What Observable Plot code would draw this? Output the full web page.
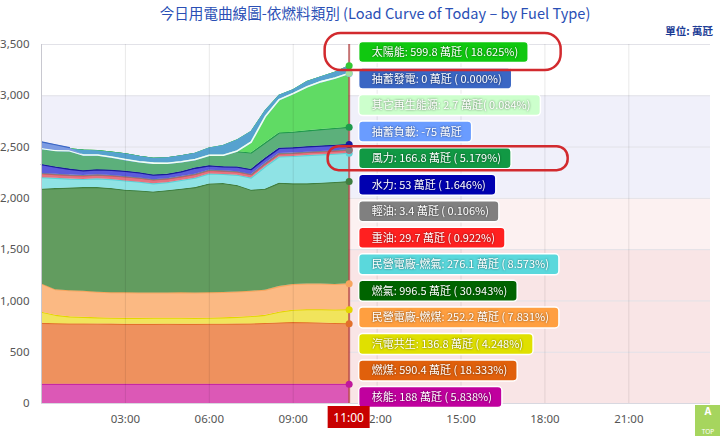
<!DOCTYPE html>
<html><head><meta charset="utf-8">
<script src="https://cdn.jsdelivr.net/npm/d3@7"></script>
<script src="https://cdn.jsdelivr.net/npm/@observablehq/plot@0.6"></script>
<style>
body{margin:0;background:#fff;font-family:"Noto Sans CJK TC","Noto Sans",sans-serif;}
#chart svg{display:block;}
</style></head>
<body><div id="chart"></div>
<script>
// ---- data (萬瓩), half-hour readings 00:00 – 11:00 ----
const times = ["00:00","00:30","01:00","01:30","02:00","02:30","03:00","03:30","04:00","04:30","05:00","05:30","06:00","06:30","07:00","07:30","08:00","08:30","09:00","09:30","10:00","10:30","11:00"];
const nuclear    = [188,188,188,188,188,188,188,188,188,188,188,188,188,188,188,188,188,188,188,188,188,188,188];
const coal       = [594,590,588,588,587,586,584,584,584,585,584,584,585,585,586,588,592,598,602,600,597,592,590.4];
const cogen      = [108,82,69,64,60,58,58,58,60,59,60,58,59,62,66,72,80,104,120,127,130,132,136.8];
const ippCoal    = [275,250,255,255,250,248,250,248,246,246,248,248,248,247,248,247,245,250,250,250,250,248,252.2];
const gas        = [925,985,1000,1010,1020,1015,1000,994,984,997,1010,1027,1060,1063,1037,985,985,1008,982,977,983,995,996.5];
const ippGas     = [112,100,88,80,85,88,90,86,80,78,84,92,98,88,100,118,215,256,266,275,276,276,276.1];
const oil        = [38,37,36,35,36,37,38,38,37,36,36,36,34,32,32,32,31,30,30,30,30,30,29.7];
const diesel     = [3,3,3,3,3,3,3,3,3,3,3,3,3,3,3,3,3,3,3.4,3.4,3.4,3.4,3.4];
const hydro      = [87,70,58,47,51,52,54,51,46,43,47,59,43,40,45,49,51,51,52,53,53,53,53];
const wind       = [153,160,197,200,185,175,169,160,162,160,155,143,150,150,150,160,150,150,152,155,160,164,166.8];
const solar      = [0,0,0,0,0,0,0,0,0,0,0,2,22,57,115,210,315,367,413,482,515,549,599.8];
const pumpLoad   = [0,0,-20,-50,-45,-50,-58,-55,-49,-55,-60,-64,-72,-97,-110,-105,-60,-45,-39,-55,-50,-60,-75];
const otherRenew = [2.5,2.5,2.5,2.5,2.5,2.5,2.5,2.5,2.5,2.5,2.5,2.5,2.6,2.6,2.6,2.6,2.7,2.7,2.7,2.7,2.7,2.7,2.7];
const pumpGen    = [65,55,30,0,0,0,0,0,0,0,0,0,0,0,0,0,0,0,0,0,0,0,0];

const names  = ["核能","燃煤","汽電共生","民營電廠-燃煤","燃氣","民營電廠-燃氣","重油","輕油","水力","風力","太陽能","抽蓄負載","其它再生能源","抽蓄發電"];
const series = [nuclear,coal,cogen,ippCoal,gas,ippGas,oil,diesel,hydro,wind,solar,pumpLoad,otherRenew,pumpGen];
const tipOrder = ["太陽能","抽蓄發電","其它再生能源","抽蓄負載","風力","水力","輕油","重油","民營電廠-燃氣","燃氣","民營電廠-燃煤","汽電共生","燃煤","核能"];
const yTicks = [0,500,1000,1500,2000,2500,3000,3500];
const xTicks = [3,6,9,12,15,18,21];
const chartTitle = "今日用電曲線圖-依燃料類別 (Load Curve of Today – by Fuel Type)";
const unitLabel = "單位: 萬瓩";
const cursorTime = "11:00";

// ---- styles ----
const areaColor = {"核能":"#dc58b6","燃煤":"#ee915e","汽電共生":"#f1e45c","民營電廠-燃煤":"#fbb983","燃氣":"#629c5f","民營電廠-燃氣":"#8fe3e5","重油":"#e4737f","輕油":"#9a9a9a","水力":"#5c5cdb","風力":"#5cb07b","太陽能":"#60db64","抽蓄負載":"#56a2cf","其它再生能源":"#e8ffe8","抽蓄發電":"#7c9be2"};
const lineColor = {"核能":"#c0189c","燃煤":"#e2702a","汽電共生":"#e4d600","民營電廠-燃煤":"#f7a55e","燃氣":"#3f7e3f","民營電廠-燃氣":"#5ad2d8","重油":"#e04555","輕油":"#808080","水力":"#1a1a9e","風力":"#1f9a4c","太陽能":"#34c834","抽蓄負載":"#6a9cff","其它再生能源":"#f2fff2","抽蓄發電":"#3a66c4"};
const tipColor = {"核能":"#c0009e","燃煤":"#e0600c","汽電共生":"#e0e000","民營電廠-燃煤":"#ff9f40","燃氣":"#006400","民營電廠-燃氣":"#5ad8dc","重油":"#ff2020","輕油":"#808080","水力":"#0000b0","風力":"#119944","太陽能":"#10c810","抽蓄負載":"#6a9cff","其它再生能源":"#ccffcc","抽蓄發電":"#3a66c4"};

const hours = s => { const [h,m] = s.split(":").map(Number); return h + m/60; };

// ---- stacked table (running sum, negatives included) ----
const rows = [];
times.forEach((tm, j) => {
  let cum = 0;
  names.forEach((n, i) => {
    const v = series[i][j];
    const lo = cum; cum += v;
    rows.push({t: hours(tm), name: n, v, lo, hi: cum});
  });
});
const byName = n => rows.filter(r => r.name === n);
const tCursor = hours(cursorTime);

const marks = [
  Plot.rect([{a:0,b:1500,c:"#f9e5e6"},{a:1500,b:2000,c:"#fcf1f1"},{a:2000,b:3000,c:"#f0f0fa"}],
            {x1:0, x2:23.92, y1:"a", y2:"b", fill:"c"}),
  Plot.ruleY(yTicks, {stroke:"#e2e2e8"})
];
names.forEach(n => {
  marks.push(Plot.area(byName(n), {x1:"t", y1:"lo", y2:"hi", fill: areaColor[n]}));
  const opts = {x:"t", y:"hi", stroke: lineColor[n], strokeWidth: n==="水力"?1.6:(n==="其它再生能源"?1.6:1.2)};
  if (n === "抽蓄發電") opts.filter = d => d.v > 0;
  marks.push(Plot.line(byName(n), opts));
});
marks.push(
  Plot.ruleX(xTicks, {stroke:"#000", strokeOpacity:0.09}),
  Plot.ruleX([0], {stroke:"#c8c8d0"}),
  Plot.ruleY([0], {stroke:"#d8d8e0"}),
  Plot.ruleX([tCursor], {y1:0, y2:3500, stroke:"#a01818", strokeOpacity:0.6, strokeWidth:2}),
  Plot.dot(rows.filter(r => r.t === tCursor && r.name !== "抽蓄發電"), {x:"t", y:"hi", r:3.5, fill: d => lineColor[d.name]==="#f2fff2" ? "#9fe09f" : lineColor[d.name]}),
  Plot.axisY({ticks: yTicks, tickFormat: d3.format(","), tickSize:0, tickPadding:12, fontSize:11.5, fill:"#555"}),
  Plot.axisX({ticks: xTicks, tickFormat: h => String(h).padStart(2,"0")+":00", tickSize:0, tickPadding:11, fontSize:11.5, fill:"#555"})
);

const plot = Plot.plot({
  width:720, height:436,
  marginTop:44, marginBottom:33, marginLeft:41, marginRight:10,
  style:{fontFamily:"'Noto Sans', 'Noto Sans CJK TC', sans-serif", background:"#fff"},
  x:{domain:[0,23.92]},
  y:{domain:[0,3500]},
  marks
});
document.getElementById("chart").appendChild(plot);

// ---- overlays: title, tooltip column, cursor label ----
const svg = d3.select(plot);
const xs = plot.scale("x"), ys = plot.scale("y");
const xl = xs.apply(tCursor);
const yTop = ys.apply(3500), yBot = ys.apply(0);
const cjk = "'Noto Sans CJK TC', sans-serif";

svg.append("text").attr("x", 375).attr("y", 19).attr("text-anchor","middle")
  .attr("font-family", cjk).attr("font-size", 14.6).attr("fill","#2a4fb5").text(chartTitle);
svg.append("text").attr("x", 713).attr("y", 35).attr("text-anchor","end")
  .attr("font-family", cjk).attr("font-size", 10.5).attr("font-weight","bold").attr("fill","#1c3c96").text(unitLabel);

const last = times.length - 1;
const total = d3.sum(series, s => s[last]);
const tip = svg.append("g").attr("text-anchor","start");
const step = (yBot - yTop - 14) / (tipOrder.length - 1);
tipOrder.forEach((n, k) => {
  const v = series[names.indexOf(n)][last];
  const pct = (v / total * 100).toFixed(3);
  const label = n === "抽蓄負載" ? `${n}: ${v} 萬瓩`
              : n === "其它再生能源" ? `${n}: ${v} 萬瓩( ${pct}%)`
              : `${n}: ${v} 萬瓩 ( ${pct}%)`;
  const cy = yTop + 8 + k * step;
  const g = tip.append("g");
  const r = g.append("rect");
  const tx = g.append("text").attr("x", xl + 23).attr("y", cy + 4).attr("text-anchor","start")
    .attr("font-family", cjk).attr("font-size", 11).attr("fill", "#fff")
    .style("filter","drop-shadow(0px 0px 1px rgba(0,0,0,0.55))").text(label);
  const w = tx.node().getComputedTextLength();
  r.attr("x", xl + 10).attr("y", cy - 10.5).attr("width", w + 23).attr("height", 21)
   .attr("rx", 4).attr("fill", tipColor[n]).attr("stroke", "#fff").attr("stroke-width", 1.5);
});

// hand-drawn red highlight marks around 太陽能 and 風力 rows
const hl = (k, dxl, dxr, up, down, rad) => {
  const cy = yTop + 8 + k * step;
  svg.append("rect").attr("x", xl + dxl).attr("y", cy - up).attr("width", dxr - dxl).attr("height", up + down)
    .attr("rx", rad).attr("fill","none").attr("stroke","#d22a2e").attr("stroke-width", 2.5);
};
hl(0, -24, 212, 19, 18, 16);
hl(4, -21, 219, 12, 12, 11);

// cursor time label
svg.append("rect").attr("x", xl - 21).attr("y", yBot + 3).attr("width", 42).attr("height", 22).attr("fill", "#c80000");
svg.append("text").attr("x", xl).attr("y", yBot + 18.5).attr("text-anchor","middle")
  .attr("font-family","'Noto Sans', sans-serif").attr("font-size", 12).attr("fill","#fff").text(cursorTime);

// corner button
svg.append("rect").attr("x", 695).attr("y", 405).attr("width", 25).attr("height", 31).attr("fill", "#a6d55e");
svg.append("text").attr("x", 708).attr("y", 415).attr("text-anchor","middle").attr("font-size", 10)
  .attr("font-weight","bold").attr("fill","#fff").attr("font-family","'Noto Sans', sans-serif").text("A");
svg.append("text").attr("x", 708).attr("y", 434).attr("text-anchor","middle").attr("font-size", 6.5)
  .attr("fill","#fff").attr("font-family","'Noto Sans', sans-serif").text("TOP");
</script></body></html>
